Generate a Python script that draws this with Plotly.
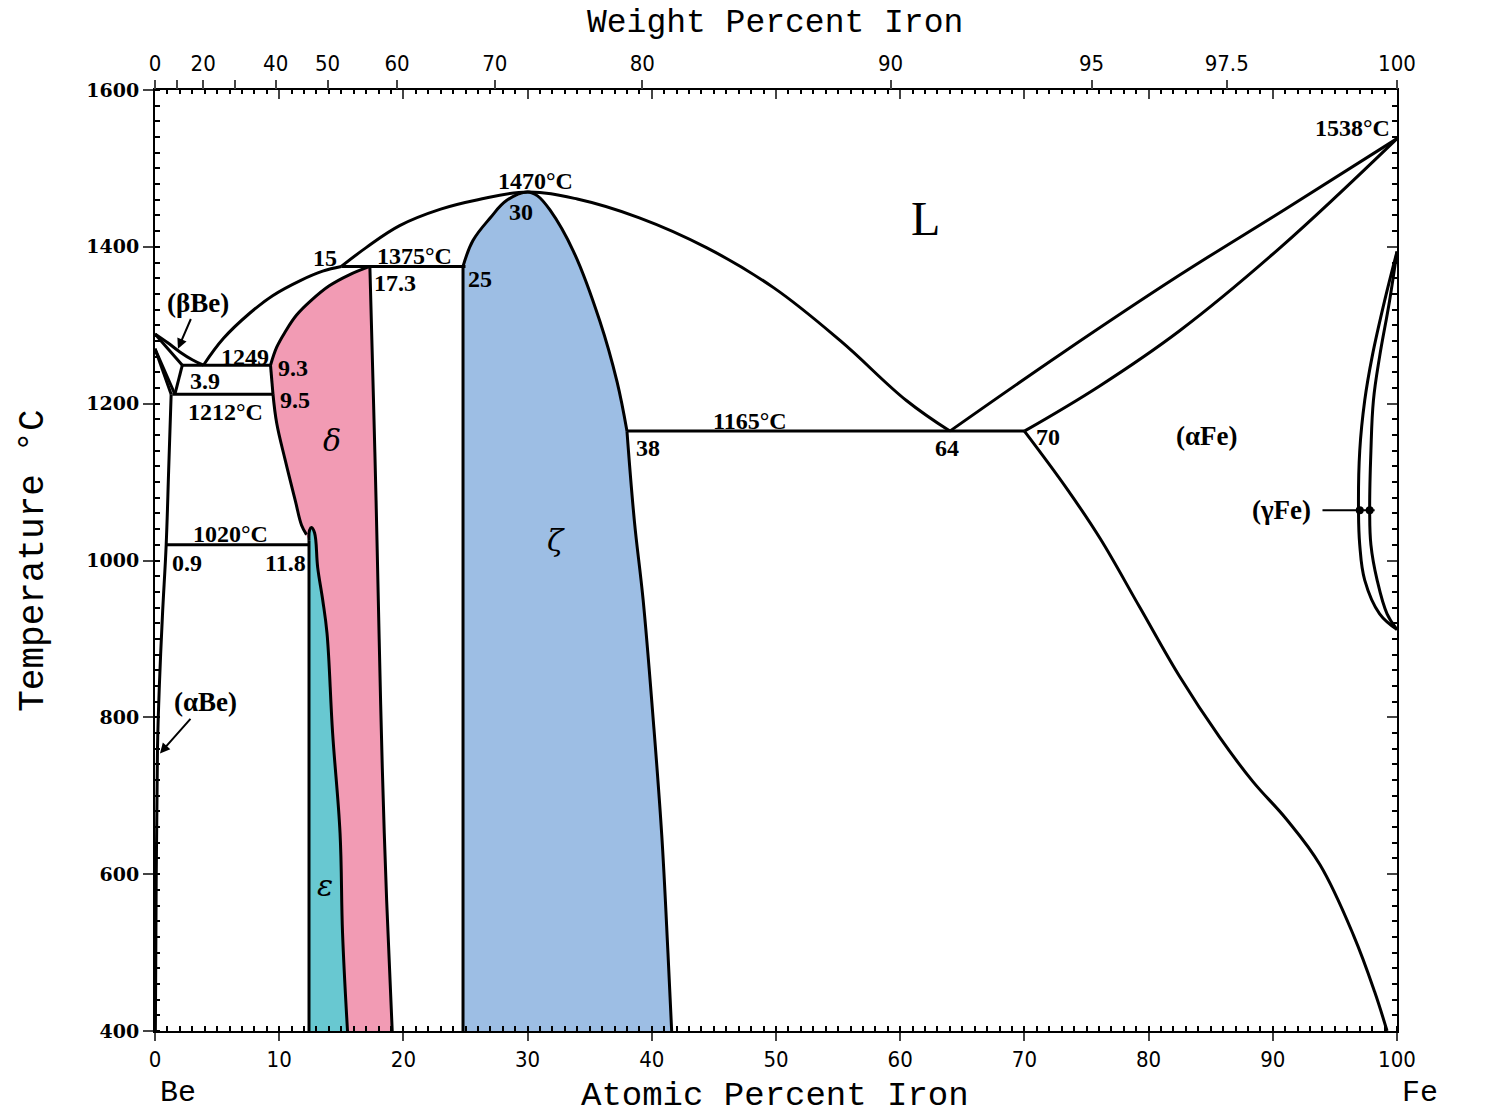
import plotly.graph_objects as go

# ---------------- data (at.% Fe, temperature °C) ----------------
# liquidus
liq_be_x = [0, 1.0, 2.0, 3.0, 3.9]
liq_be_T = [1289, 1278, 1266, 1256, 1249]
liq_mid_x = [3.9, 5.5, 7.6, 9.5, 11.7, 13.5, 15]
liq_mid_T = [1249, 1283, 1315, 1338, 1357, 1369, 1375]
liq_dome_x = [15, 17, 19.7, 23, 26, 30, 34, 39, 44.4, 49.8, 55.2, 60.5, 64]
liq_dome_T = [1375, 1399, 1427, 1448, 1460, 1470, 1461, 1437, 1399, 1348, 1280, 1204, 1165]
liq_fe_x = [64, 73, 82.5, 91, 100]
liq_fe_T = [1165, 1264, 1364, 1448, 1538]
sol_fe_x = [70, 76, 82.5, 90.6, 100]
sol_fe_T = [1165, 1222, 1293, 1399, 1538]

# (βBe) / (αBe)
bbe_sol_x = [0, 2.2]
bbe_sol_T = [1289, 1249]
bbe_solv_x = [2.2, 1.6]
bbe_solv_T = [1249, 1212]
bbe_low_x = [0, 1.6]
bbe_low_T = [1270, 1212]
abe_up_x = [0, 1.3]
abe_up_T = [1270, 1212]
abe_solv_x = [1.3, 1.1, 0.9, 0.6, 0.35, 0.2, 0.1, 0.03]
abe_solv_T = [1212, 1115, 1020, 930, 840, 760, 600, 400]

# invariant lines
iso_T = [1249, 1212, 1375, 1165, 1020]
iso_xl = [2.2, 1.4, 15, 38, 0.9]
iso_xr = [9.3, 9.5, 25, 70, 12.4]

# delta phase
dl_up_x = [17.3, 15.6, 14.0, 12.6, 11.4, 10.5, 9.8, 9.3]
dl_up_T = [1375, 1364, 1350, 1332, 1313, 1292, 1272, 1249]
dl_mid_x = [9.3, 9.5]
dl_mid_T = [1249, 1212]
dl_low_x = [9.5, 9.8, 10.5, 11.3, 11.8, 12.2]
dl_low_T = [1212, 1175, 1127, 1076, 1045, 1033]
dr_x = [17.3, 17.6, 17.8, 18.05, 18.3, 18.65, 19.1]
dr_T = [1375, 1200, 1076, 900, 736, 567, 400]

# epsilon phase
eps_l_x = [12.4, 12.4]
eps_l_T = [400, 1025]
eps_r_x = [12.4, 12.45, 12.6, 12.85, 13.1, 13.5, 13.85, 14.3, 14.9, 15.1, 15.5]
eps_r_T = [1025, 1039, 1042, 1035, 991, 950, 907, 780, 652, 525, 400]

# zeta phase
zl_x = [24.8, 24.8]
zl_T = [400, 1375]
z_top_x = [24.8, 25.6, 27.0, 28.3, 30, 30.8, 31.8, 33.7, 35.8, 37.2, 38]
z_top_T = [1375, 1408, 1437, 1459, 1470, 1465, 1447, 1394, 1306, 1228, 1165]
z_low_x = [38, 38.6, 39.3, 40.1, 40.8, 41.3, 41.6]
z_low_T = [1165, 1050, 950, 800, 650, 500, 400]

# (αFe) solvus
afe_x = [70, 73.4, 76.1, 79.3, 82.5, 85.7, 88.4, 91.1, 93.8, 96.5, 98.2, 99.2]
afe_T = [1165, 1092, 1028, 940, 852, 775, 718, 670, 612, 522, 450, 400]

# (γFe) loop
gout_x = [100, 99.0, 98.0, 97.4, 97.0, 96.9, 97.0, 97.4, 98.6, 100]
gout_T = [1394, 1331, 1260, 1204, 1140, 1064, 1020, 975, 932, 912]
gin_x = [100, 99.4, 98.6, 98.1, 97.9, 97.8, 97.9, 98.4, 99.2, 100]
gin_T = [1394, 1331, 1260, 1204, 1140, 1064, 1020, 975, 932, 912]

# weight-percent axis
wt_ticks = [0, 10, 20, 30, 40, 50, 60, 70, 80, 90, 95, 97.5, 100]
wt_text = ["0", "", "20", "", "40", "50", "60", "70", "80", "90", "95", "97.5", "100"]
M_FE, M_BE = 55.845, 9.0122

# labels inside the diagram
lab_text = ["1249", "3.9", "9.3", "9.5", "1212°C", "15", "1375°C", "17.3", "25",
            "1470°C", "30", "1020°C", "0.9", "11.8", "1165°C", "38", "64", "70",
            "1538°C"]
lab_x = [7.25, 4.03, 11.1, 11.27, 5.64, 13.7, 20.9, 19.3, 26.2,
         30.6, 29.5, 6.04, 2.58, 10.5, 47.9, 39.7, 63.8, 71.9,
         96.4]
lab_T = [1260, 1229, 1246, 1205, 1189, 1386, 1388, 1354, 1359,
         1484, 1445, 1034, 997, 997, 1178, 1144, 1144, 1157,
         1552]

phase_text = ["δ", "ε", "ζ"]
phase_x = [14.25, 13.7, 32.3]
phase_T = [1153, 585, 1025]


def wt_to_at(w):
    nf = w / M_FE
    nb = (100 - w) / M_BE
    return 100 * nf / (nf + nb)


PINK = "#F29BB4"
TEAL = "#68C8D1"
BLUE = "#9DBEE4"
LW = 3

fig = go.Figure()


def fill(xs, ts, color):
    fig.add_trace(go.Scatter(x=xs, y=ts, mode="lines", fill="toself",
                             fillcolor=color, line=dict(width=0, color=color),
                             hoverinfo="skip", showlegend=False))


fill(dr_x[::-1] + dl_up_x + dl_low_x + eps_r_x, dr_T[::-1] + dl_up_T + dl_low_T + eps_r_T, PINK)
fill(zl_x + z_top_x + z_low_x, zl_T + z_top_T + z_low_T, BLUE)
fill(eps_l_x + eps_r_x, eps_l_T + eps_r_T, TEAL)

segments = [
    (liq_be_x, liq_be_T), (liq_mid_x, liq_mid_T), (liq_dome_x, liq_dome_T),
    (liq_fe_x, liq_fe_T), (sol_fe_x, sol_fe_T),
    (bbe_sol_x, bbe_sol_T), (bbe_solv_x, bbe_solv_T), (bbe_low_x, bbe_low_T),
    (abe_up_x, abe_up_T), (abe_solv_x, abe_solv_T),
    (dl_up_x, dl_up_T), (dl_mid_x, dl_mid_T), (dl_low_x, dl_low_T), (dr_x, dr_T),
    (eps_l_x, eps_l_T), (eps_r_x, eps_r_T),
    (zl_x, zl_T), (z_top_x, z_top_T), (z_low_x, z_low_T),
    (afe_x, afe_T), (gout_x, gout_T), (gin_x, gin_T),
]
for xs, ts in segments:
    fig.add_trace(go.Scatter(x=xs, y=ts, mode="lines",
                             line=dict(color="black", width=LW, shape="spline", smoothing=1.1),
                             cliponaxis=False, hoverinfo="skip", showlegend=False))

for t, xl, xr in zip(iso_T, iso_xl, iso_xr):
    fig.add_trace(go.Scatter(x=[xl, xr], y=[t, t], mode="lines",
                             line=dict(color="black", width=LW),
                             hoverinfo="skip", showlegend=False))

# (γFe) pointer
fig.add_trace(go.Scatter(x=[94.0, 98.2], y=[1064, 1064], mode="lines",
                         line=dict(color="black", width=2), showlegend=False, hoverinfo="skip"))
fig.add_trace(go.Scatter(x=[97.0, 97.8], y=[1064, 1064], mode="markers",
                         marker=dict(color="black", size=8), showlegend=False, hoverinfo="skip"))

SERIF = "Liberation Serif"
LABFONT = dict(family=SERIF, size=24, color="black")
for t, x, y in zip(lab_text, lab_x, lab_T):
    fig.add_annotation(x=x, y=y, text="<b>%s</b>" % t, showarrow=False, font=LABFONT)

for t, x, y in zip(phase_text, phase_x, phase_T):
    fig.add_annotation(x=x, y=y, text="<i>%s</i>" % t, showarrow=False,
                       font=dict(family="DejaVu Serif", size=30, color="black"))

fig.add_annotation(x=62.0, y=1436, text="L", showarrow=False,
                   font=dict(family=SERIF, size=48, color="black"))

PHFONT = dict(family=SERIF, size=27, color="black")
# arrows
fig.add_annotation(x=1.85, y=1270, ax=3.46, ay=1329, axref="x", ayref="y",
                   text="<b>(βBe)</b>", showarrow=True, arrowhead=2, arrowsize=1,
                   arrowwidth=2, arrowcolor="black", font=PHFONT)
fig.add_annotation(x=0.4, y=754, ax=4.03, ay=819, axref="x", ayref="y",
                   text="<b>(αBe)</b>", showarrow=True, arrowhead=2, arrowsize=1,
                   arrowwidth=2, arrowcolor="black", font=PHFONT)
fig.add_annotation(x=90.7, y=1064, text="<b>(γFe)</b>", showarrow=False, font=PHFONT)
fig.add_annotation(x=84.7, y=1159, text="<b>(αFe)</b>", showarrow=False, font=PHFONT)

# labels outside plot area
SMALL = dict(family=SERIF, size=20, color="black")
fig.add_annotation(x=-0.6, y=1293, text="<b>1289°C</b>", xanchor="right", showarrow=False, font=SMALL)
fig.add_annotation(x=-0.6, y=1264, text="<b>1270°C</b>", xanchor="right", showarrow=False, font=SMALL)
fig.add_annotation(x=100.5, y=1392, text="<b>1394°C</b>", xanchor="left", showarrow=False, font=LABFONT)
fig.add_annotation(x=100.5, y=911, text="<b>912°C</b>", xanchor="left", showarrow=False, font=LABFONT)

for txt, px, py, ang, sz in [("Atomic Percent Iron", 0.499, -0.069, 0, 34),
                             ("Weight Percent Iron", 0.499, 1.071, 0, 33),
                             ("Temperature °C", -0.098, 0.5, -90, 36),
                             ("Be", 0.0185, -0.066, 0, 30),
                             ("Fe", 1.0185, -0.066, 0, 30)]:
    fig.add_annotation(xref="paper", yref="paper", x=px, y=py, text=txt, textangle=ang,
                       xanchor="center", yanchor="middle", showarrow=False,
                       font=dict(family="Liberation Mono", size=sz, color="black"))

TICKFONT = dict(family="Liberation Sans Narrow, DejaVu Sans Condensed, sans-serif", size=22, color="black")
fig.update_layout(
    width=1493, height=1114, autosize=False,
    margin=dict(l=155, r=96, t=90, b=83),
    plot_bgcolor="white", paper_bgcolor="white",
    showlegend=False,
    xaxis=dict(range=[0, 100], dtick=10, tick0=0, ticks="outside", ticklen=8, tickwidth=2,
               showline=True, linewidth=2, linecolor="black", mirror=True, showgrid=False,
               zeroline=False, tickfont=TICKFONT,
               minor=dict(dtick=1, ticks="inside", ticklen=5, tickwidth=1.5, tickcolor="black")),
    xaxis2=dict(range=[0, 100], overlaying="x", side="top", anchor="y",
                tickmode="array", tickvals=[wt_to_at(w) for w in wt_ticks], ticktext=wt_text,
                ticks="outside", ticklen=9, tickwidth=2, showgrid=False, zeroline=False,
                tickfont=TICKFONT),
    xaxis3=dict(range=[0, 100], overlaying="x", side="top", anchor="y", dtick=10,
                ticks="inside", ticklen=9, tickwidth=2, showticklabels=False, showgrid=False,
                zeroline=False,
                minor=dict(dtick=1, ticks="inside", ticklen=4, tickwidth=1.5, tickcolor="black")),
    yaxis=dict(range=[400, 1600], dtick=200, ticks="outside", ticklen=10, tickwidth=2,
               showline=True, linewidth=2, linecolor="black", mirror=True, showgrid=False,
               zeroline=False,
               tickfont=dict(family="DejaVu Serif", size=19, color="black", weight="bold"),
               minor=dict(dtick=20, ticks="inside", ticklen=5, tickwidth=1.5, tickcolor="black")),
    yaxis2=dict(range=[400, 1600], overlaying="y", side="right", anchor="x", dtick=200,
                ticks="inside", ticklen=10, tickwidth=2, showticklabels=False, showgrid=False,
                zeroline=False,
                minor=dict(dtick=20, ticks="inside", ticklen=5, tickwidth=1.5, tickcolor="black")),
)
# dummy traces to activate the extra axes
fig.add_trace(go.Scatter(x=[None], y=[None], xaxis="x2", yaxis="y", showlegend=False))
fig.add_trace(go.Scatter(x=[None], y=[None], xaxis="x3", yaxis="y2", showlegend=False))

fig.write_html("out.html")
